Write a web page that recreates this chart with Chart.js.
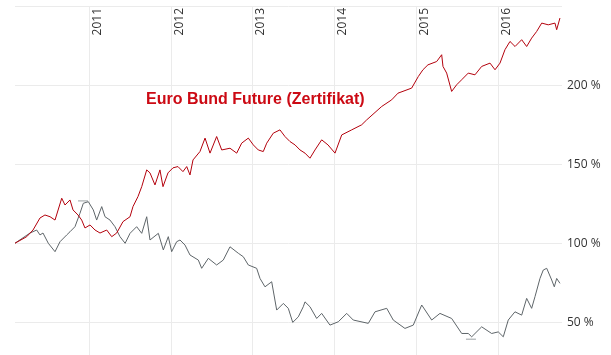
<!DOCTYPE html>
<html>
<head>
<meta charset="utf-8">
<script src="https://cdn.jsdelivr.net/npm/chart.js@4"></script>
<style>
html,body{margin:0;padding:0;background:#fff;}
#wrap{width:611px;height:355px;position:relative;}
</style>
</head>
<body>
<div id="wrap"><canvas id="c" width="611" height="355"></canvas></div>
<script>
// ---- data (decimal years, percent) ----
const yearTicks = [2011, 2012, 2013, 2014, 2015, 2016];
const yTicks = [50, 100, 150, 200, 250];
const titleText = "Euro Bund Future (Zertifikat)";

const bundDates = [2010.09,2010.235,2010.312,2010.397,2010.458,2010.52,2010.581,2010.663,2010.703,2010.764,2010.801,2010.862,2010.907,2010.947,2011.009,2011.07,2011.131,2011.213,2011.274,2011.335,2011.412,2011.498,2011.534,2011.595,2011.641,2011.702,2011.742,2011.803,2011.864,2011.901,2011.962,2012.023,2012.084,2012.145,2012.191,2012.231,2012.268,2012.353,2012.415,2012.476,2012.557,2012.619,2012.72,2012.802,2012.863,2012.944,2013.005,2013.066,2013.127,2013.169,2013.249,2013.331,2013.392,2013.454,2013.515,2013.576,2013.637,2013.698,2013.759,2013.841,2013.918,2014.004,2014.086,2014.208,2014.33,2014.391,2014.575,2014.697,2014.774,2014.941,2015.022,2015.079,2015.14,2015.247,2015.308,2015.324,2015.369,2015.43,2015.491,2015.553,2015.633,2015.715,2015.797,2015.899,2015.96,2016.021,2016.082,2016.143,2016.205,2016.286,2016.347,2016.408,2016.469,2016.531,2016.611,2016.693,2016.714,2016.754];
const bundValues = [100,104.2,108.4,116.0,117.9,116.8,114.7,128.5,124.2,127.4,121.1,117.9,114.7,109.7,111.6,108.4,106.5,108.4,104.2,106.5,113.7,116.8,123.2,129.5,135.8,146.4,144.5,136.9,146.4,135.8,144.5,147.7,148.5,145.3,148.5,143.2,152.7,158.0,166.5,157.0,167.5,159.0,160.1,157.0,163.3,166.5,162.2,159.0,158.0,163.3,169.6,171.7,167.5,164.3,162.2,159.0,157.0,153.8,159.0,165.4,162.2,157.0,168.5,171.7,174.9,178.0,186.5,190.7,194.9,198.1,205.4,209.7,212.8,214.9,219.2,211.8,207.6,196.0,200.2,203.4,207.6,206.5,211.8,213.9,209.7,213.9,222.4,227.6,224.4,228.7,224.4,229.7,233.9,239.2,238.1,239.2,235.0,242.4];

const underDates = [2010.09,2010.275,2010.357,2010.397,2010.434,2010.499,2010.581,2010.642,2010.724,2010.764,2010.825,2010.886,2010.927,2010.988,2011.049,2011.09,2011.152,2011.192,2011.253,2011.314,2011.375,2011.438,2011.498,2011.579,2011.641,2011.702,2011.742,2011.844,2011.905,2011.966,2012.007,2012.068,2012.109,2012.17,2012.231,2012.333,2012.374,2012.455,2012.557,2012.638,2012.72,2012.822,2012.883,2012.944,2013.046,2013.087,2013.148,2013.23,2013.291,2013.372,2013.433,2013.487,2013.555,2013.616,2013.637,2013.698,2013.78,2013.841,2013.942,2014.044,2014.147,2014.227,2014.411,2014.493,2014.636,2014.716,2014.859,2014.961,2015.064,2015.186,2015.287,2015.43,2015.553,2015.633,2015.675,2015.797,2015.919,2016.0,2016.061,2016.122,2016.204,2016.286,2016.347,2016.408,2016.449,2016.51,2016.55,2016.592,2016.653,2016.685,2016.714,2016.754];
const underValues = [100,106.5,108.4,105.3,106.5,100.0,94.7,101.0,105.3,107.3,110.5,119.0,125.3,126.3,121.1,114.7,123.2,116.8,114.7,110.5,104.2,100.0,106.3,110.5,106.3,116.8,102.1,106.3,95.8,104.2,94.7,101.0,102.1,98.9,92.6,89.4,84.2,90.5,86.3,89.4,97.8,93.7,91.5,86.3,84.2,77.8,72.5,75.7,57.8,62.0,58.9,50.0,53.5,59.9,63.0,59.9,52.5,55.7,48.3,50.4,55.7,51.5,49.4,56.7,58.9,51.5,46.2,48.3,61.0,51.5,55.7,52.5,43.0,43.0,40.9,47.2,43.0,44.0,40.9,51.5,56.7,54.6,65.2,58.9,66.3,77.8,83.1,84.2,76.8,72.5,77.8,74.7];

// high / low markers of the grey series
const highMarkDates = [2010.862, 2010.984];
const highMarkValue = 126.8;
const lowMarkDates = [2015.605, 2015.727];
const lowMarkValue = 39.4;

const toXY = (xs, ys) => xs.map((x, i) => ({x: x, y: ys[i]}));

const labelsPlugin = {
  id: 'labelsPlugin',
  afterDatasetsDraw(chart) {
    const ctx = chart.ctx;
    const xs = chart.scales.x;
    const area = chart.chartArea;
    ctx.save();
    ctx.fillStyle = '#333';
    ctx.font = '12px "Open Sans"';
    yearTicks.forEach(yr => {
      const px = xs.getPixelForValue(yr);
      ctx.save();
      ctx.translate(px + 2, area.top + 2);
      ctx.rotate(-Math.PI / 2);
      ctx.textAlign = 'right';
      ctx.textBaseline = 'top';
      ctx.fillText(String(yr), 0, 0);
      ctx.restore();
    });
    ctx.fillStyle = '#cc0a14';
    ctx.font = 'bold 16px "Liberation Sans", Arial';
    ctx.textAlign = 'left';
    ctx.textBaseline = 'alphabetic';
    ctx.fillText(titleText, 146, 103.5);
    ctx.restore();
  }
};

new Chart(document.getElementById('c'), {
  type: 'line',
  data: {
    datasets: [
      {label: 'Basiswert', data: toXY(underDates, underValues), borderColor: '#5e6569', borderWidth: 1, pointRadius: 0, tension: 0, order: 2},
      {label: titleText, data: toXY(bundDates, bundValues), borderColor: '#b3000c', borderWidth: 1, pointRadius: 0, tension: 0, order: 1},
      {label: 'Hoch', data: toXY(highMarkDates, [highMarkValue, highMarkValue]), borderColor: '#9aa0a3', borderWidth: 1, pointRadius: 0, order: 3},
      {label: 'Tief', data: toXY(lowMarkDates, [lowMarkValue, lowMarkValue]), borderColor: '#9aa0a3', borderWidth: 1, pointRadius: 0, order: 3}
    ]
  },
  options: {
    responsive: false,
    animation: false,
    layout: {padding: {left: 15, top: 6, right: 0, bottom: 0}},
    plugins: {legend: {display: false}, tooltip: {enabled: false}, title: {display: false}},
    scales: {
      x: {
        type: 'linear',
        min: 2010.0917,
        max: 2016.779,
        afterBuildTicks(scale) { scale.ticks = yearTicks.map(v => ({value: v})); },
        afterFit(scale) { scale.height = 0; scale.paddingLeft = 0; scale.paddingRight = 0; },
        ticks: {display: false, padding: 0},
        grid: {color: '#ebebeb', lineWidth: 1, drawTicks: false},
        border: {display: false}
      },
      y: {
        position: 'right',
        min: 29.4,
        max: 250,
        afterBuildTicks(scale) { scale.ticks = yTicks.map(v => ({value: v})); },
        afterFit(scale) { scale.width = 49; scale.paddingTop = 0; scale.paddingBottom = 0; },
        ticks: {
          color: '#333',
          font: {family: '"Open Sans"', size: 12},
          padding: 5,
          callback: v => (v >= 250 ? '' : v + ' %')
        },
        grid: {color: '#ebebeb', lineWidth: 1, drawTicks: false},
        border: {display: false}
      }
    }
  },
  plugins: [labelsPlugin]
});
</script>
</body>
</html>
